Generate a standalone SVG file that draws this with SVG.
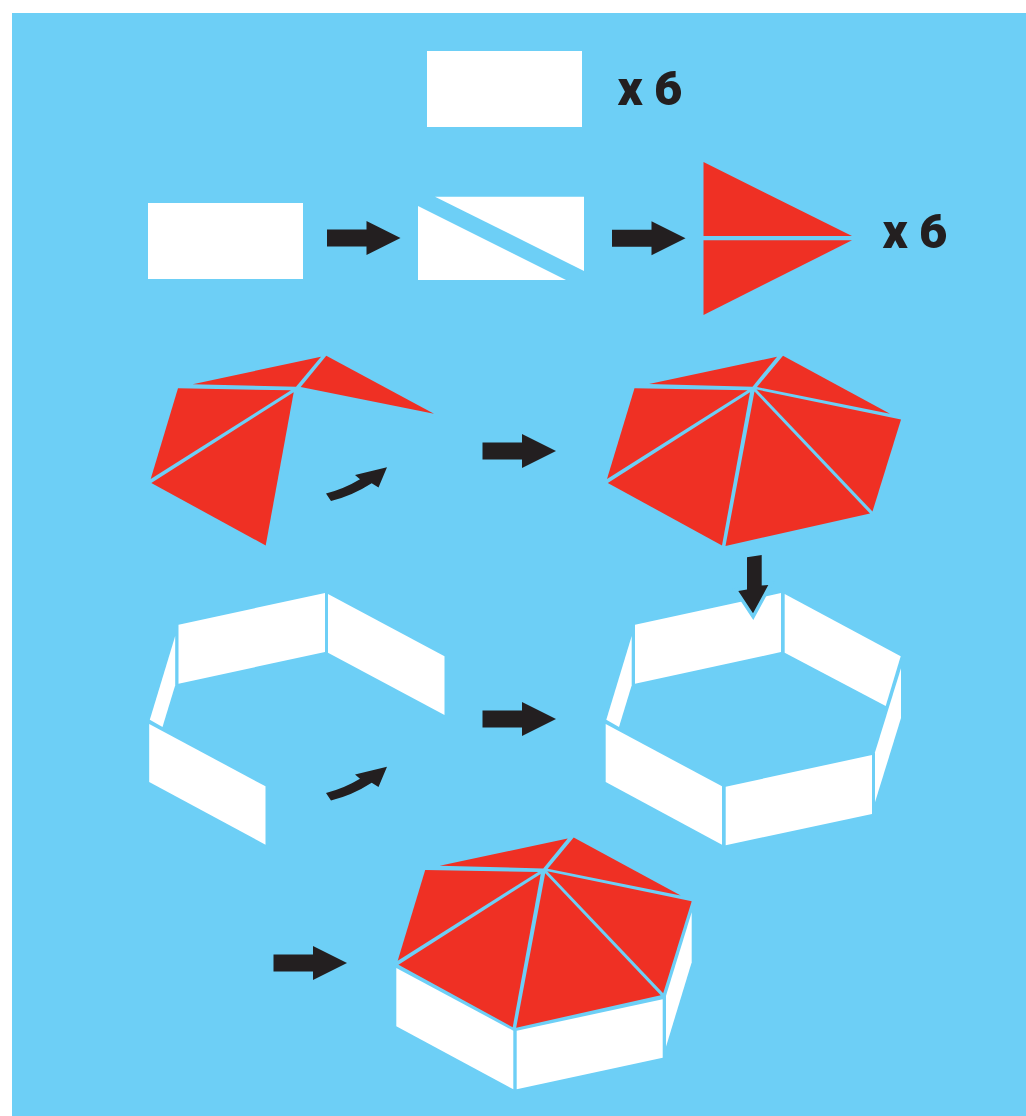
<svg xmlns="http://www.w3.org/2000/svg" width="1026" height="1116" viewBox="0 0 1026 1116">
<style>
.w{fill:#fff}.r{fill:#ef3024}.k{fill:#231f20}
.t{font-family:Roboto,"Liberation Sans",Arial,sans-serif;font-weight:900;font-size:49px;fill:#231f20}
</style>
<defs>
<path id="arrow" d="M0 -8.5H39.5V-17L73.5 0L39.5 17V8.5H0Z"/>
<path id="curve" d="M326 493.5Q344 489 360 479.3L355 475L387 467.3L378.5 487.5L371.7 483.3Q352 496 331 501Z"/>
<g id="roof">
<polygon points="649,384 777,356.7 752.5,386.7"/>
<polygon points="783,355.7 890,413.7 757,387"/>
<polygon points="634.5,388.3 747.5,390.3 607,479"/>
<polygon points="750,392.3 722,545.5 607.8,483"/>
<polygon points="754.5,391.5 725.5,546 870,513.5"/>
<polygon points="756.5,389.5 901,419.5 872.5,511.5"/>
</g>
</defs>
<rect width="1026" height="1116" fill="#fff"/>
<rect x="12" y="13" width="1014" height="1103" fill="#6dcff6"/>
<g id="sheet-top"><rect class="w" x="427" y="51" width="155" height="76"/></g>
<g id="label-top"><text class="t" x="617.5" y="105">x</text><text class="t" x="654" y="105">6</text></g>
<g id="sheet-whole"><rect class="w" x="148" y="203" width="155" height="76"/></g>
<g id="sheet-cut" class="w"><polygon points="435,196.7 584,196.7 584,271"/><polygon points="418,206 566,280 418,280"/></g>
<g id="red-triangles" class="r"><polygon points="703.5,162 852,236 703.5,236"/><polygon points="703.5,240.3 852,240.3 703.5,315"/></g>
<g id="label-red"><text class="t" x="882.5" y="248">x</text><text class="t" x="919" y="248">6</text></g>
<g id="roof-partial" class="r">
<polygon points="192.7,384.3 321,356.7 296,386.7"/>
<polygon points="326.3,355.7 434,413.7 300.7,387"/>
<polygon points="178,388.3 291,390.3 150.7,479"/>
<polygon points="293.7,392.3 265.7,545.5 151.3,483"/>
</g>
<g id="roof-complete" class="r"><use href="#roof"/></g>
<g id="walls-partial" class="w">
<polygon points="178.5,624.7 325,593 325,652 178.5,683.7"/>
<polygon points="328,594 444.5,656.3 444.5,715 328,652.7"/>
<polygon points="175.2,636 175.2,685.3 162.5,727 149.8,719.7"/>
<polygon points="149.2,724 265.5,786.3 265.5,844.7 149.2,782"/>
</g>
<g id="walls-complete" class="w">
<polygon points="635,624.7 781,593 781,652 635,683.7"/>
<polygon points="784.7,594 900.7,656.3 885.7,706 784.7,652.7"/>
<polygon points="631.7,636 631.7,685.3 619,727 606.3,719.7"/>
<polygon points="605.7,724 722,786.3 722,844.7 605.7,782"/>
<polygon points="725.7,786.7 872,755 872,814 725.7,845.3"/>
<polygon points="901,668.3 901,718 875,802.3 875,752.3"/>
</g>
<g id="house">
<g class="w">
<polygon points="396.3,968 513.3,1030.7 513.3,1089.3 396.3,1026.3"/>
<polygon points="516.7,1030.7 662.7,999.3 662.7,1057.7 516.7,1089.3"/>
<polygon points="691.7,912.3 691.7,962.3 666,1046.7 666,995.7"/>
</g>
<g class="r" transform="translate(-209.3 481.7)"><use href="#roof"/></g>
</g>
<g id="connectors" class="k">
<use href="#arrow" x="327" y="238"/>
<use href="#arrow" x="612" y="238.3"/>
<use href="#arrow" x="482.5" y="451"/>
<use href="#arrow" x="482.5" y="719"/>
<use href="#arrow" x="273.5" y="963"/>
<use href="#curve"/>
<use href="#curve" y="299.5"/>
<path d="M747 557.3L761.7 555V585.5L768.3 585L753 613.3L738.3 591L747 589.5Z" stroke="#6dcff6" stroke-width="7" paint-order="stroke" stroke-miterlimit="6"/>
</g>
</svg>
